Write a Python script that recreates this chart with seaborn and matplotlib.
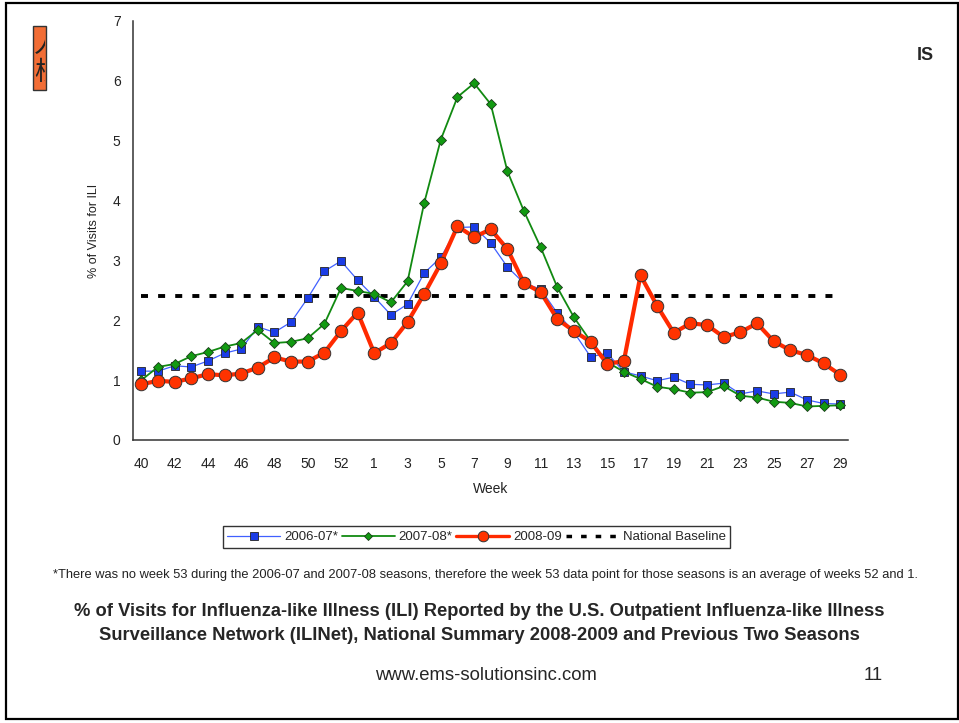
import numpy as np
import pandas as pd
import matplotlib
matplotlib.use("Agg")
import matplotlib.pyplot as plt
from matplotlib.patches import Rectangle
from matplotlib.lines import Line2D
import seaborn as sns

# ---- data ----
weeks = [str(w) for w in list(range(40, 54)) + list(range(1, 30))]
tick_labels = [w if (i % 2 == 0) else "" for i, w in enumerate(weeks)]

s2006_07 = [1.15, 1.15, 1.24, 1.22, 1.32, 1.45, 1.52, 1.89, 1.80, 1.97, 2.37, 2.82, 2.99, 2.67,
            2.39, 2.09, 2.27, 2.79, 3.05, 3.55, 3.56, 3.29, 2.89, 2.62, 2.52, 2.12, 1.80, 1.39,
            1.45, 1.14, 1.07, 0.99, 1.05, 0.93, 0.92, 0.95, 0.77, 0.82, 0.77, 0.80, 0.67, 0.61, 0.60]
s2007_08 = [1.00, 1.22, 1.27, 1.40, 1.47, 1.56, 1.62, 1.84, 1.62, 1.64, 1.70, 1.94, 2.54, 2.49,
            2.44, 2.30, 2.65, 3.96, 5.02, 5.73, 5.96, 5.61, 4.49, 3.82, 3.22, 2.55, 2.05, 1.65,
            1.30, 1.14, 1.02, 0.89, 0.85, 0.79, 0.80, 0.90, 0.74, 0.71, 0.64, 0.62, 0.56, 0.57, 0.58]
s2008_09 = [0.93, 0.99, 0.97, 1.03, 1.10, 1.08, 1.11, 1.21, 1.38, 1.31, 1.31, 1.46, 1.82, 2.13,
            1.45, 1.62, 1.97, 2.44, 2.95, 3.57, 3.39, 3.52, 3.19, 2.62, 2.47, 2.02, 1.82, 1.64,
            1.27, 1.32, 2.75, 2.24, 1.79, 1.95, 1.92, 1.72, 1.80, 1.95, 1.65, 1.50, 1.42, 1.28, 1.09]
baseline_value = 2.4

series_names = ["2006-07*", "2007-08*", "2008-09", "National Baseline"]

footnote = ("*There was no week 53 during the 2006-07 and 2007-08 seasons, therefore the week 53 "
            "data point for those seasons is an average of weeks 52 and 1.")
caption1 = "% of Visits for Influenza-like Illness (ILI) Reported by the U.S. Outpatient Influenza-like Illness"
caption2 = "Surveillance Network (ILINet), National Summary 2008-2009 and Previous Two Seasons"
url_text = "www.ems-solutionsinc.com"
page_no = "11"

# ---- build frame ----
pos = np.arange(len(weeks))
df = pd.DataFrame({
    "pos": np.tile(pos, 4),
    "value": s2006_07 + s2007_08 + s2008_09 + [baseline_value] * len(weeks),
    "series": np.repeat(series_names, len(weeks)),
})

sns.set_style("white")
plt.rcParams["font.family"] = ["Liberation Sans", "DejaVu Sans", "Noto Sans CJK SC"]

W, H = 959, 723
fig = plt.figure(figsize=(W / 100, H / 100), dpi=100)
fig.patch.set_facecolor("white")

def fx(px):
    return px / W

def fy(py):
    return 1 - py / H

# slide frame
fig.add_artist(Rectangle((fx(6), fy(719)), fx(958) - fx(6), fy(3) - fy(719),
                         transform=fig.transFigure, fill=False, edgecolor="black", lw=1.6))

# remnants of slide title
fig.add_artist(Rectangle((fx(33), fy(90)), fx(46) - fx(33), fy(26) - fy(90),
                         transform=fig.transFigure, facecolor="#f26d35", edgecolor="#333333", lw=1))
clip_rect = Rectangle((fx(33), fy(90)), fx(45) - fx(33), fy(26) - fy(90), transform=fig.transFigure)
for k, ch in enumerate(["人", "校"]):
    t = fig.text(fx(34), fy(44 + k * 28), ch, fontsize=19, family=["Noto Sans CJK SC"],
                 va="center", ha="left", color="#222222")
    t.set_clip_path(clip_rect)
fig.text(fx(917), fy(56), "IS", fontsize=13, fontweight="bold", va="center", ha="left")

ax = fig.add_axes([fx(133), fy(440), fx(848.5) - fx(133), fy(21) - fy(440)])
ax.set_facecolor("none")

styles = {
    "2006-07*": dict(color="#4060ff", lw=0.9, marker="s", ms=6, mfc="#1a3ce6", mec="#222222", mew=0.6, zorder=3),
    "2007-08*": dict(color="#118a11", lw=1.3, marker="D", ms=4.8, mfc="#129a12", mec="#1a3a1a", mew=0.6, zorder=4),
    "2008-09": dict(color="#ff2a00", lw=3.0, marker="o", ms=9, mfc="#ff3300", mec="#333333", mew=0.7, zorder=5),
}

for name in series_names[:3]:
    st = styles[name]
    sns.lineplot(data=df[df["series"] == name], x="pos", y="value", ax=ax,
                 color=st["color"], linewidth=st["lw"], marker=st["marker"], markersize=st["ms"],
                 markerfacecolor=st["mfc"], markeredgecolor=st["mec"], markeredgewidth=st["mew"],
                 zorder=st["zorder"], legend=False, estimator=None)

sns.lineplot(data=df[df["series"] == "National Baseline"], x="pos", y="value", ax=ax,
             color="black", linewidth=2.8, zorder=2, legend=False, estimator=None)
ax.lines[-1].set_dashes([1.8, 2.6])

ax.set_xlim(-0.5, len(weeks) - 0.5)
ax.set_ylim(0, 7)
ax.set_yticks(range(0, 8))
ax.set_yticklabels([str(v) for v in range(0, 8)], fontsize=10, color="#222222")
ax.set_xticks(pos)
ax.set_xticklabels(tick_labels, fontsize=10, color="#222222")
ax.set_xticks(np.arange(-0.5, len(weeks), 1.0), minor=True)
ax.tick_params(axis="x", which="major", length=0, pad=12)
ax.tick_params(axis="x", which="minor", length=5, width=1, color="#333333", direction="out")
ax.tick_params(axis="y", length=5, width=1, color="#333333", direction="out", pad=4)

for side in ["top", "right"]:
    ax.spines[side].set_visible(False)
for side in ["left", "bottom"]:
    ax.spines[side].set_color("#333333")
    ax.spines[side].set_linewidth(1.1)
ax.grid(False)

ax.set_xlabel("Week", fontsize=10, color="#222222", labelpad=8)
ax.set_ylabel("% of Visits for ILI", fontsize=9, color="#222222", labelpad=9)

# legend
handles = []
for name in series_names[:3]:
    st = styles[name]
    handles.append(Line2D([], [], color=st["color"], lw=st["lw"] if name != "2008-09" else 2.4,
                          marker=st["marker"], ms=st["ms"] * 0.85, mfc=st["mfc"], mec=st["mec"], mew=st["mew"]))
bl = Line2D([], [], color="black", lw=2.5)
bl.set_dashes([1.6, 2.6])
handles.append(bl)
leg = fig.legend(handles, series_names, loc="center", bbox_to_anchor=(fx(476.5), fy(537)),
                 ncol=4, frameon=True, fancybox=False, edgecolor="black", fontsize=9.5,
                 handlelength=4.0, handletextpad=0.3, columnspacing=0.3, borderpad=0.35)
leg.get_frame().set_linewidth(1.0)

fig.text(fx(485), fy(575), footnote, fontsize=9.3, ha="center", va="center", color="#222222")
fig.text(fx(479), fy(612), caption1, fontsize=13.2, fontweight="bold", ha="center", va="center")
fig.text(fx(479), fy(635), caption2, fontsize=13.2, fontweight="bold", ha="center", va="center")
fig.text(fx(486), fy(676), url_text, fontsize=13.3, ha="center", va="center")
fig.text(fx(873), fy(676), page_no, fontsize=13.3, ha="center", va="center")

fig.savefig("out.png", dpi=100, facecolor="white")
